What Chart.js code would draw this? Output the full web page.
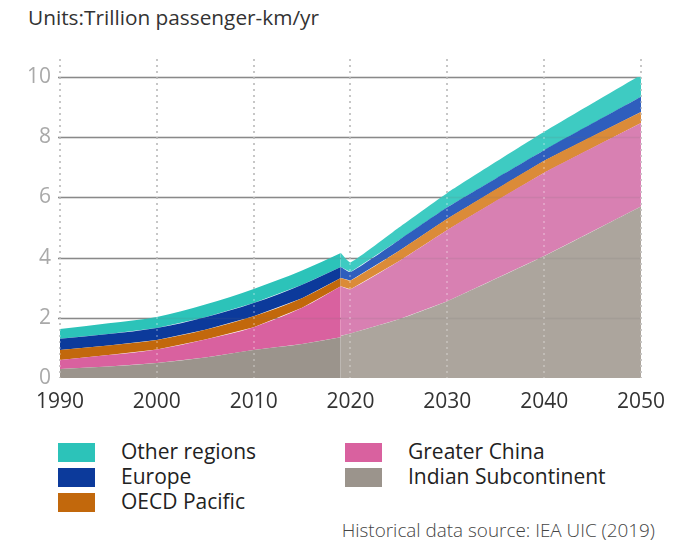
<!DOCTYPE html>
<html>
<head>
<meta charset="utf-8">
<script src="https://cdn.jsdelivr.net/npm/chart.js@4/dist/chart.umd.min.js"></script>
<style>
	body { margin: 0; background: #fff; font-family: 'Open Sans', sans-serif; }
	#wrap { position: relative; width: 676px; height: 545px; overflow: hidden; }
	#title { position: absolute; left: 28px; top: 3px; font-size: 20.8px; color: #333; white-space: nowrap; }
	#box { position: absolute; left: 0; top: 0; width: 676px; height: 430px; }
	.lg { position: absolute; font-size: 21px; color: #222; line-height: 25px; }
	.lg i { position: absolute; left: 0; top: 3px; width: 37px; height: 19px; }
	.lg span { position: absolute; left: 63px; top: -1px; white-space: nowrap; }
	#src { position: absolute; right: 21px; top: 517px; font-size: 18.9px; font-weight: 300; color: #444; white-space: nowrap; }
</style>
</head>
<body>
<div id="wrap">
	<div id="title">Units:Trillion passenger-km/yr</div>
	<div id="box"><canvas id="myChart"></canvas></div>
	<div id="legend"></div>
	<div id="src">Historical data source: IEA UIC (2019)</div>
</div>
<script>
/* 지역별 철도 여객 수송량 (조 인킬로/년) */
var regions = ['Indian Subcontinent', 'Greater China', 'OECD Pacific', 'Europe', 'Other regions'];

// 과거 자료
var histYears = [1990, 1995, 2000, 2005, 2010, 2015, 2019];
var histIndian = [0.30, 0.38, 0.50, 0.68, 0.93, 1.13, 1.35];
var histChina = [0.30, 0.38, 0.45, 0.60, 0.76, 1.20, 1.70];
var histOecd = [0.33, 0.32, 0.31, 0.32, 0.36, 0.32, 0.27];
var histEurope = [0.37, 0.38, 0.40, 0.42, 0.44, 0.45, 0.37];
var histOther = [0.33, 0.36, 0.37, 0.42, 0.47, 0.47, 0.46];

// 전망
var projYears = [2019, 2020, 2025, 2030, 2040, 2050];
var projIndian = [1.40, 1.48, 1.95, 2.55, 4.05, 5.70];
var projChina = [1.65, 1.47, 1.93, 2.37, 2.77, 2.77];
var projOecd = [0.27, 0.29, 0.34, 0.37, 0.40, 0.37];
var projEurope = [0.37, 0.28, 0.36, 0.38, 0.35, 0.50];
var projOther = [0.46, 0.32, 0.42, 0.48, 0.61, 0.73];

var yearTicks = [1990, 2000, 2010, 2020, 2030, 2040, 2050];
var valueTicks = [0, 2, 4, 6, 8, 10];

var histColors = ['#9b948c', '#d9619f', '#c2680c', '#0c3a9b', '#2cc3b9'];
var projColors = ['#aca59d', '#d880b2', '#db8b38', '#2f5ebd', '#3ecbc2'];
var legendColors = ['#9b948c', '#d9619f', '#c2680c', '#0c3a9b', '#2cc3b9'];

function toPoints(years, vals) {
	return years.map(function (y, i) { return { x: y, y: vals[i] }; });
}

var histSeries = [histIndian, histChina, histOecd, histEurope, histOther];
var projSeries = [projIndian, projChina, projOecd, projEurope, projOther];
var datasets = [];
histSeries.forEach(function (vals, i) {
	datasets.push({
		label: regions[i],
		data: toPoints(histYears, vals),
		stack: 'hist',
		fill: 'stack',
		backgroundColor: histColors[i],
		borderWidth: 0,
		pointRadius: 0,
		tension: 0.3,
		cubicInterpolationMode: 'monotone'
	});
});
projSeries.forEach(function (vals, i) {
	datasets.push({
		label: regions[i] + ' (projection)',
		data: toPoints(projYears, vals),
		stack: 'proj',
		fill: 'stack',
		backgroundColor: projColors[i],
		borderWidth: 0,
		pointRadius: 0,
		tension: 0.15
	});
});

// 격자선
function drawGrid(chart, over) {
	var ctx = chart.ctx;
	var area = chart.chartArea;
	var xs = chart.scales.x, ys = chart.scales.y;
	ctx.save();
	ctx.lineWidth = 1.5;
	ctx.strokeStyle = over ? 'rgba(110,110,110,0.13)' : '#8e8e8e';
	valueTicks.forEach(function (v) {
		if (v === 0) return;
		var py = Math.round(ys.getPixelForValue(v)) + 0.5;
		ctx.beginPath();
		ctx.moveTo(area.left - 2, py);
		ctx.lineTo(area.right, py);
		ctx.stroke();
	});
	ctx.setLineDash([2, 4]);
	ctx.strokeStyle = over ? 'rgba(255,255,255,0.35)' : '#9a9a9a';
	yearTicks.forEach(function (yr) {
		var px = Math.round(xs.getPixelForValue(yr));
		ctx.beginPath();
		ctx.moveTo(px, area.top - 18);
		ctx.lineTo(px, area.bottom);
		ctx.stroke();
	});
	ctx.restore();
}
const gridPlugin = {
	id: 'gridPlugin',
	beforeDatasetsDraw(chart) { drawGrid(chart, false); },
	afterDatasetsDraw(chart) { drawGrid(chart, true); }
};

var ctx1 = document.getElementById('myChart');
var myChart = new Chart(ctx1, {
	type: 'line',
	data: { datasets: datasets },
	options: {
		responsive: true,
		maintainAspectRatio: false,
		animation: false,
		events: [],
		layout: {
			padding: { left: 0, right: 22, top: 77, bottom: 7 }
		},
		plugins: {
			legend: { display: false },
			tooltip: { enabled: false }
		},
		scales: {
			x: {
				type: 'linear',
				min: 1990,
				max: 2050,
				afterBuildTicks: function (s) { s.ticks = yearTicks.map(function (v) { return { value: v }; }); },
				afterFit: function (s) { s.height = 45; },
				ticks: {
					color: '#333',
					font: { family: "'Open Sans'", size: 21 },
					padding: 11,
					maxRotation: 0,
					callback: function (v) { return String(v); }
				},
				grid: { display: false, drawTicks: false },
				border: { display: false }
			},
			y: {
				stacked: true,
				min: 0,
				max: 10,
				afterBuildTicks: function (s) { s.ticks = valueTicks.map(function (v) { return { value: v }; }); },
				afterFit: function (s) { s.width = 60; },
				ticks: {
					color: '#a9a9a9',
					font: { family: "'Open Sans'", size: 21 },
					padding: 9
				},
				grid: { display: false, drawTicks: false },
				border: { display: false }
			}
		}
	},
	plugins: [gridPlugin]
});

// 범례
var legendItems = [
	{ name: 'Other regions', color: legendColors[4], left: 58, top: 440 },
	{ name: 'Europe', color: legendColors[3], left: 58, top: 465 },
	{ name: 'OECD Pacific', color: legendColors[2], left: 58, top: 490 },
	{ name: 'Greater China', color: legendColors[1], left: 345, top: 440 },
	{ name: 'Indian Subcontinent', color: legendColors[0], left: 345, top: 465 }
];
var legendDiv = document.getElementById('legend');
legendItems.forEach(function (it) {
	var d = document.createElement('div');
	d.className = 'lg';
	d.style.left = it.left + 'px';
	d.style.top = it.top + 'px';
	d.innerHTML = '<i style="background:' + it.color + '"></i><span>' + it.name + '</span>';
	legendDiv.appendChild(d);
});
</script>
</body>
</html>
